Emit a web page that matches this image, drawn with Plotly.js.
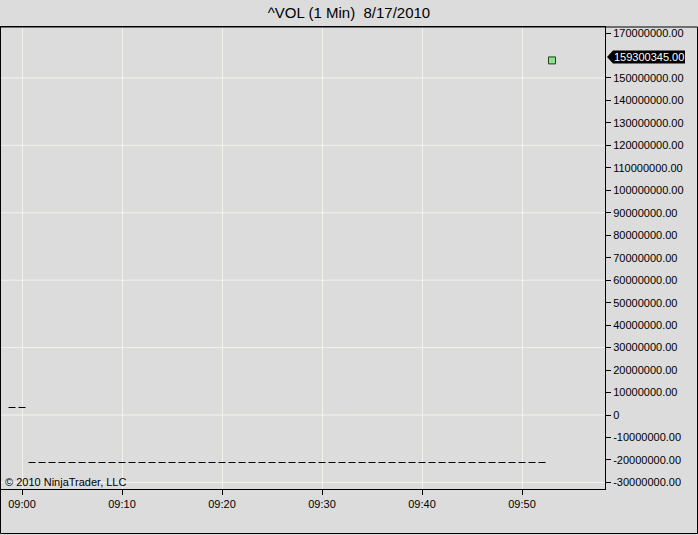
<!DOCTYPE html>
<html>
<head>
<meta charset="utf-8">
<script src="https://cdn.plot.ly/plotly-3.0.1.min.js"></script>
<style>
html,body{margin:0;padding:0;background:#dcdcdc;}
#chart{width:698px;height:535px;}
</style>
</head>
<body>
<div id="chart"></div>
<script>
// ---- data ----
const titleText = "^VOL (1 Min)  8/17/2010";
const lastValue = 159300345;
const lastLabel = "159300345.00";

const volTimes = ["2010-08-17 09:53:00"];
const volValues = [157800000];

const preTimes = ["2010-08-17 08:59:00", "2010-08-17 09:00:00"];
const preValues = [3340000, 3340000];

const lineTimes = [
 "2010-08-17 09:01:00","2010-08-17 09:02:00","2010-08-17 09:03:00","2010-08-17 09:04:00","2010-08-17 09:05:00",
 "2010-08-17 09:06:00","2010-08-17 09:07:00","2010-08-17 09:08:00","2010-08-17 09:09:00","2010-08-17 09:10:00",
 "2010-08-17 09:11:00","2010-08-17 09:12:00","2010-08-17 09:13:00","2010-08-17 09:14:00","2010-08-17 09:15:00",
 "2010-08-17 09:16:00","2010-08-17 09:17:00","2010-08-17 09:18:00","2010-08-17 09:19:00","2010-08-17 09:20:00",
 "2010-08-17 09:21:00","2010-08-17 09:22:00","2010-08-17 09:23:00","2010-08-17 09:24:00","2010-08-17 09:25:00",
 "2010-08-17 09:26:00","2010-08-17 09:27:00","2010-08-17 09:28:00","2010-08-17 09:29:00","2010-08-17 09:30:00",
 "2010-08-17 09:31:00","2010-08-17 09:32:00","2010-08-17 09:33:00","2010-08-17 09:34:00","2010-08-17 09:35:00",
 "2010-08-17 09:36:00","2010-08-17 09:37:00","2010-08-17 09:38:00","2010-08-17 09:39:00","2010-08-17 09:40:00",
 "2010-08-17 09:41:00","2010-08-17 09:42:00","2010-08-17 09:43:00","2010-08-17 09:44:00","2010-08-17 09:45:00",
 "2010-08-17 09:46:00","2010-08-17 09:47:00","2010-08-17 09:48:00","2010-08-17 09:49:00","2010-08-17 09:50:00",
 "2010-08-17 09:51:00","2010-08-17 09:52:00"
];
const lineValues = [
 -21140000,-21140000,-21140000,-21140000,-21140000,-21140000,-21140000,-21140000,-21140000,-21140000,
 -21140000,-21140000,-21140000,-21140000,-21140000,-21140000,-21140000,-21140000,-21140000,-21140000,
 -21140000,-21140000,-21140000,-21140000,-21140000,-21140000,-21140000,-21140000,-21140000,-21140000,
 -21140000,-21140000,-21140000,-21140000,-21140000,-21140000,-21140000,-21140000,-21140000,-21140000,
 -21140000,-21140000,-21140000,-21140000,-21140000,-21140000,-21140000,-21140000,-21140000,-21140000,
 -21140000,-21140000
];

// 160000000.00 is hidden under the last-value box in the reference
const yTickVals = [170000000,150000000,140000000,130000000,120000000,110000000,100000000,
  90000000,80000000,70000000,60000000,50000000,40000000,30000000,20000000,10000000,0,-10000000,-20000000,-30000000];
const yTickText = ["170000000.00","150000000.00","140000000.00","130000000.00","120000000.00",
  "110000000.00","100000000.00","90000000.00","80000000.00","70000000.00","60000000.00","50000000.00",
  "40000000.00","30000000.00","20000000.00","10000000.00","0","-10000000.00","-20000000.00","-30000000.00"];
const gridVals = [150000000,120000000,90000000,60000000,30000000,0,-30000000];
const xTickVals = ["2010-08-17 09:00:00","2010-08-17 09:10:00","2010-08-17 09:20:00","2010-08-17 09:30:00","2010-08-17 09:40:00","2010-08-17 09:50:00"];
const xTickText = ["09:00","09:10","09:20","09:30","09:40","09:50"];

// ---- geometry helpers (pixel -> paper) ----
const W = 698, H = 535, L = 1, R = 93, T = 27, B = 46;
const pw = W - L - R, ph = H - T - B;
const px = x => (x - L) / pw;
const py = y => (H - B - y) / ph;

const font = "Liberation Sans, Arial, sans-serif";

const traces = [
  {x: lineTimes, y: lineValues, type: "scatter", mode: "markers",
   marker: {symbol: "line-ew", size: 5, line: {width: 1, color: "#000000"}}, hoverinfo: "skip"},
  {x: preTimes, y: preValues, type: "scatter", mode: "markers",
   marker: {symbol: "line-ew", size: 5, line: {width: 1, color: "#000000"}}, hoverinfo: "skip"},
  {x: volTimes, y: volValues, type: "scatter", mode: "markers",
   marker: {symbol: "square", size: 7, color: "#8fe08f", line: {width: 1, color: "#1f3f1f"}}, hoverinfo: "skip"}
];

const pxPerUnit = 22.47 / 10000000;
const half = 6.5 / pxPerUnit;

const shapes = [];
gridVals.forEach(v => shapes.push({type: "line", xref: "paper", yref: "y", x0: 0, x1: 1, y0: v, y1: v,
  line: {color: "#f3f3ec", width: 1}, layer: "below"}));
shapes.push({type: "path", xref: "paper", yref: "y",
  path: `M ${px(607)},${lastValue} L ${px(613)},${lastValue + half} L ${px(685)},${lastValue + half} L ${px(685)},${lastValue - half} L ${px(613)},${lastValue - half} Z`,
  fillcolor: "#000000", line: {width: 0}});
shapes.push({type: "rect", xref: "paper", yref: "paper", x0: px(0.5), x1: px(697.5), y0: py(533.5), y1: py(27),
  line: {color: "#000000", width: 1}, fillcolor: "rgba(0,0,0,0)"});

const layout = {
  width: W, height: H,
  margin: {l: L, r: R, t: T, b: B, pad: 0},
  paper_bgcolor: "#dcdcdc", plot_bgcolor: "#dcdcdc",
  showlegend: false, hovermode: false,
  font: {family: font, size: 11, color: "#000"},
  title: {text: titleText, x: 0.5, xref: "container", xanchor: "center",
    y: 1 - 13 / H, yref: "container", yanchor: "middle",
    font: {family: font, size: 15, color: "#000"}},
  xaxis: {type: "date",
    range: ["2010-08-17 08:57:54", "2010-08-17 09:58:18"],
    tickvals: xTickVals, ticktext: xTickText,
    showgrid: true, gridcolor: "#f3f3ec", gridwidth: 1,
    zeroline: false, showline: true, linecolor: "#000", linewidth: 1, mirror: true,
    ticks: "outside", ticklen: 5, tickcolor: "#000",
    tickfont: {family: font, size: 11, color: "#000"}, fixedrange: true},
  yaxis: {side: "right",
    range: [-(489 - 415) / 22.47 * 10000000, (415 - 27) / 22.47 * 10000000],
    tickvals: yTickVals, ticktext: yTickText,
    showgrid: false, zeroline: false,
    showline: true, linecolor: "#000", linewidth: 1, mirror: true,
    ticks: "outside", ticklen: 5, tickcolor: "#000",
    tickfont: {family: font, size: 11, color: "#000"}, fixedrange: true},
  shapes: shapes,
  annotations: [
    {text: lastLabel, xref: "paper", yref: "y", x: px(649), y: lastValue, showarrow: false,
     xanchor: "center", yanchor: "middle", font: {family: font, size: 11, color: "#ffffff"}},
    {text: "© 2010 NinjaTrader, LLC", xref: "paper", yref: "paper", x: px(3), y: py(482),
     showarrow: false, xanchor: "left", yanchor: "middle", font: {family: font, size: 11, color: "#000"}}
  ]
};

Plotly.newPlot("chart", traces, layout, {staticPlot: true, displayModeBar: false});
</script>
</body>
</html>
